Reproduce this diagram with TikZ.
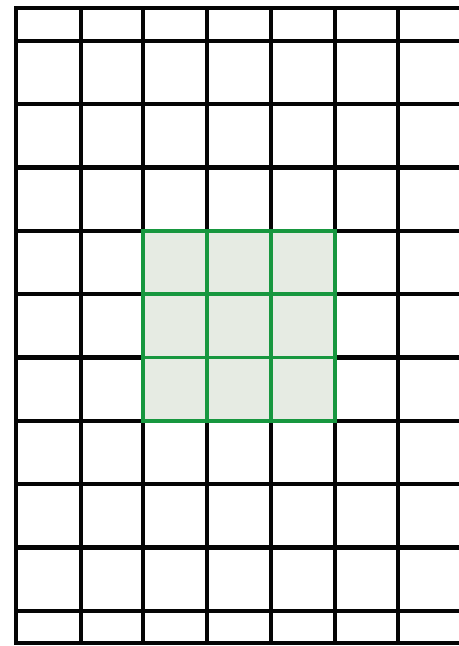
\documentclass[tikz,border=0pt]{standalone}
\usepackage{xcolor}
\definecolor{gridink}{HTML}{050505}
\definecolor{patchedge}{HTML}{17973F}
\definecolor{patchfill}{HTML}{E6EBE3}
\usepackage{tikz}

\begin{document}
\begin{tikzpicture}[
  x=0.02cm, y=-0.02cm,
  gridrule/.style={gridink, line width=2.5pt, line cap=rect},
  patchrule/.style={patchedge, line width=2.2pt, line cap=rect}
]
  \useasboundingbox (0,0) rectangle (459,646);
  \clip (0,0) rectangle (459,646);
  % black sheet grid
  \foreach \gx in {16,81,143,207,271,335,398}
    \draw[gridrule] (\gx,8) -- (\gx,643);
  \foreach \gy in {8,41,104.3,167.6,230.9,294.2,357.5,420.8,484.1,547.4,610.7,643}
    \draw[gridrule] (16,\gy) -- (470,\gy);
  % green patch of nine cells
  \fill[patchfill] (143,230.9) rectangle (335,420.8);
  \foreach \px in {143,207,271,335}
    \draw[patchrule] (\px,230.9) -- (\px,420.8);
  \foreach \py in {230.9,294.2,357.5,420.8}
    \draw[patchrule] (143,\py) -- (335,\py);
\end{tikzpicture}
\end{document}
